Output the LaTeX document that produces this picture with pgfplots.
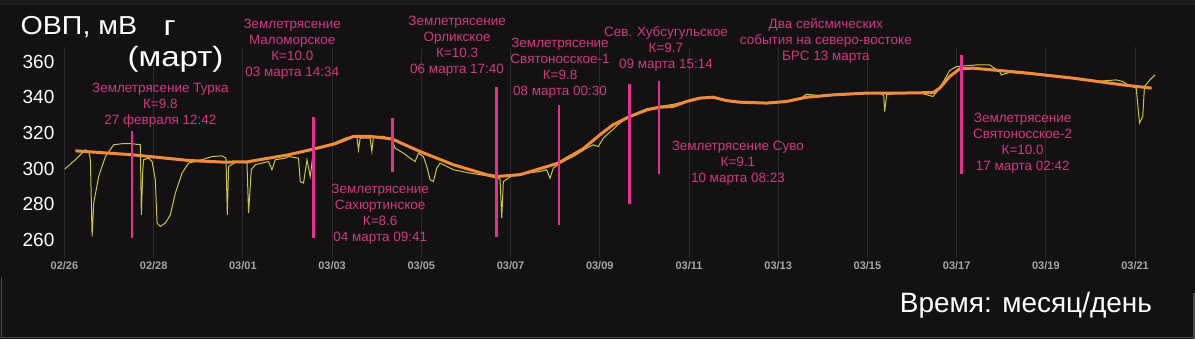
\documentclass[border=0pt]{standalone}
\usepackage{fontspec}
\setmainfont{Liberation Sans}
\usepackage{pgfplots}
\pgfplotsset{compat=1.18}
\definecolor{bg}{RGB}{20,17,19}
\definecolor{topband}{RGB}{30,28,30}
\definecolor{framec}{RGB}{75,75,75}
\definecolor{pinkline}{RGB}{222,52,140}
\definecolor{pinktext}{RGB}{205,60,125}
\definecolor{orangeline}{RGB}{240,140,60}
\definecolor{rawline}{RGB}{200,196,76}
\definecolor{gridc}{RGB}{44,42,44}
\definecolor{ticklab}{RGB}{165,165,165}

\pgfplotstableread{
d v
0.007 299.7
0.246 304.9
0.470 310.5
0.544 309.5
0.582 305.0
0.620 261.9
0.656 280.6
0.768 295.5
0.918 306.7
1.104 313.3
1.292 313.9
1.516 313.9
1.702 313.3
1.724 274.0
1.758 300.0
1.776 304.9
1.888 305.8
1.964 304.0
2.038 293.7
2.076 269.4
2.150 267.5
2.262 269.4
2.374 274.0
2.486 286.2
2.636 297.4
2.784 303.0
3.084 304.9
3.308 306.7
3.532 307.1
3.621 305.8
3.651 274.0
3.680 301.1
3.868 303.9
4.092 303.0
4.128 275.0
4.188 299.3
4.278 302.1
4.576 303.9
4.652 299.3
4.726 304.9
4.950 305.8
5.024 306.7
5.247 305.8
5.286 292.7
5.360 291.8
5.436 304.9
5.510 295.5
5.583 310.5
5.772 312.3
6.031 314.2
6.331 317.4
6.555 318.0
6.591 310.5
6.629 317.0
6.853 317.0
6.891 309.5
6.927 318.0
7.151 318.0
7.339 316.1
7.413 311.4
7.599 308.6
7.749 305.8
7.861 303.9
7.935 308.6
8.047 306.7
8.123 301.1
8.197 293.7
8.271 292.7
8.347 300.2
8.421 303.0
8.719 299.3
9.093 297.4
9.467 295.9
9.691 294.6
9.765 294.0
9.803 272.2
9.839 292.7
10.063 296.5
10.363 297.4
10.661 298.3
10.811 299.3
10.885 294.6
10.959 300.2
11.109 303.0
11.406 306.7
11.707 311.4
11.854 313.3
11.966 312.3
12.078 317.0
12.452 325.5
12.676 329.5
13.057 333.5
13.348 334.8
13.646 336.0
13.946 337.8
14.244 339.3
14.542 340.2
14.842 338.4
15.140 337.0
15.738 336.5
16.186 337.4
16.484 339.0
16.634 341.7
16.932 340.8
17.230 341.2
17.977 342.0
18.275 342.4
18.365 341.0
18.387 332.0
18.432 341.5
18.723 342.2
19.171 342.5
19.469 340.4
19.619 345.0
19.843 355.0
19.993 357.2
20.441 358.1
20.739 358.1
20.963 354.4
21.001 352.5
21.187 353.9
21.859 352.5
22.605 350.7
23.203 349.0
23.577 349.7
23.725 348.8
23.837 346.9
24.025 345.1
24.099 325.5
24.172 329.2
24.210 346.0
24.333 349.7
24.445 352.5
}\rawdata

\pgfplotstableread{
d v
0.246 309.9
1.516 307.7
2.784 304.5
3.532 303.6
4.092 303.7
5.024 307.7
5.583 310.9
6.069 313.9
6.479 318.0
6.853 318.0
7.339 316.6
7.973 309.5
8.719 302.1
9.467 296.5
9.691 295.5
10.213 296.5
11.070 303.0
11.624 311.0
12.004 318.9
12.296 324.5
12.676 329.2
13.057 332.9
13.348 334.4
13.646 334.8
13.946 337.6
14.244 339.5
14.542 340.0
14.842 338.1
15.140 337.2
15.738 336.7
16.186 337.6
16.634 340.0
17.230 341.3
17.977 342.3
18.723 342.3
19.469 342.6
19.619 345.1
19.843 351.6
20.067 355.9
20.365 356.3
21.485 353.8
22.605 350.7
23.725 346.9
24.371 345.1
}\smoothdata

\newcommand{\ann}[3]{\node[anchor=north, align=center, inner sep=0pt, text=pinktext,
  font=\fontsize{13.5}{16}\selectfont] at (#1pt,#2pt) {#3};}

\begin{document}
\begin{tikzpicture}
\fill[bg] (0pt,0pt) rectangle (1195pt,339pt);
\fill[topband] (0pt,334pt) rectangle (1195pt,339pt);
\draw[framec, line width=1pt] (0pt,1.3pt) -- (1195pt,1.3pt);
\draw[framec, line width=1pt] (0.8pt,1.3pt) -- (0.8pt,62pt);
\draw[framec, line width=2pt] (1194pt,0pt) -- (1194pt,46pt);
\begin{axis}[
  at={(50.6pt,81.2pt)}, anchor=south west,
  scale only axis, width=1129.6pt, height=210.8pt,
  xmin=-0.3, xmax=25, ymin=250, ymax=368.2,
  axis line style={draw=none}, major tick length=0pt,
  xtick={0,2,...,24},
  xticklabels={02/26,02/28,03/01,03/03,03/05,03/07,03/09,03/11,03/13,03/15,03/17,03/19,03/21},
  ytick={260,280,300,320,340,360},
  yticklabels={260,280,300,320,340,360},
  xmajorgrids, grid style={gridc, line width=0.8pt},
  x tick label style={font=\fontsize{11}{13}\selectfont\bfseries, text=ticklab},
  y tick label style={font=\fontsize{19}{22}\selectfont, text=white, inner sep=0pt, xshift=3.5pt},
  clip=false,
]
\addplot[rawline, line width=1pt] table[x=d, y=v] {\rawdata};
\addplot[orangeline, line width=3pt, line join=round] table[x=d, y=v] {\smoothdata};
\addplot[pinkline, line width=2.5pt] coordinates {(1.52,321.1) (1.52,261.1)};
\addplot[pinkline, line width=2.5pt] coordinates {(5.58,329.0) (5.58,261.1)};
\addplot[pinkline, line width=2.5pt] coordinates {(7.35,328.4) (7.35,298.2)};
\addplot[pinkline, line width=2.5pt] coordinates {(9.68,345.8) (9.68,261.6)};
\addplot[pinkline, line width=2.5pt] coordinates {(11.09,335.7) (11.09,268.4)};
\addplot[pinkline, line width=2.5pt] coordinates {(12.67,347.5) (12.67,280.2)};
\addplot[pinkline, line width=2.5pt] coordinates {(13.33,349.2) (13.33,297.0)};
\addplot[pinkline, line width=2.5pt] coordinates {(20.11,363.7) (20.11,297.0)};
\end{axis}
% titles
\node[anchor=base west, inner sep=0pt, text=white, font=\fontsize{26}{30}\selectfont] at (20pt,304pt) {\scalebox{1.1}[1]{ОВП, мВ}};
\node[anchor=base west, inner sep=0pt, text=white, font=\fontsize{28}{30}\selectfont] at (163pt,303pt) {\scalebox{1.18}[1]{г}};
\node[anchor=base west, inner sep=0pt, text=white, font=\fontsize{28}{30}\selectfont] at (127pt,272pt) {\scalebox{1.18}[1]{(март)}};
\node[anchor=base west, inner sep=0pt, text=white, font=\fontsize{28}{30}\selectfont] at (900pt,26pt) {Время: месяц/день};
% annotations
\ann{160}{256}{Землетрясение Турка\\К=9.8\\27 февраля 12:42}
\ann{292}{320}{Землетрясение\\Маломорское\\К=10.0\\03 марта 14:34}
\ann{457}{323}{Землетрясение\\Орликское\\К=10.3\\06 марта 17:40}
\ann{560}{301}{Землетрясение\\Святоносское-1\\К=9.8\\08 марта 00:30}
\ann{666}{313}{Сев. Хубсугульское\\К=9.7\\09 марта 15:14}
\ann{826}{321}{Два сейсмических\\события на северо-востоке\\БРС 13 марта}
\ann{380}{155}{Землетрясение\\Сахюртинское\\К=8.6\\04 марта 09:41}
\ann{738}{198}{Землетрясение Суво\\К=9.1\\10 марта 08:23}
\ann{1023}{226}{Землетрясение\\Святоносское-2\\К=10.0\\17 марта 02:42}
\end{tikzpicture}
\end{document}
